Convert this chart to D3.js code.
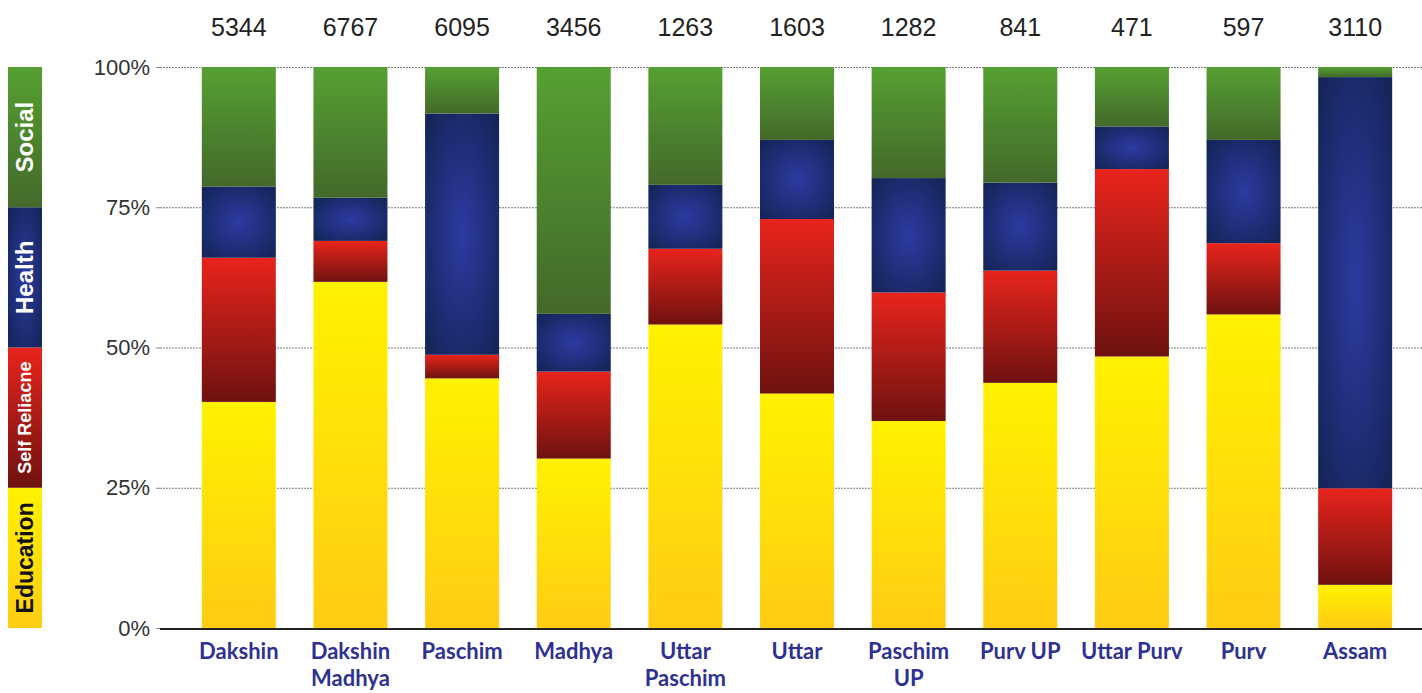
<!DOCTYPE html>
<html>
<head>
<meta charset="utf-8">
<script src="https://cdn.jsdelivr.net/npm/d3@7"></script>
<style>
  body { margin: 0; background: #fff; }
  svg { display: block; }
</style>
</head>
<body>
<svg id="chart"></svg>
<script>
var width = 1422, height = 693

// data (percent of projects per region)
var regions = ["Dakshin", "Dakshin Madhya", "Paschim", "Madhya", "Uttar Paschim", "Uttar",
    "Paschim UP", "Purv UP", "Uttar Purv", "Purv", "Assam"]
var labelLines = [["Dakshin"], ["Dakshin", "Madhya"], ["Paschim"], ["Madhya"], ["Uttar", "Paschim"], ["Uttar"],
    ["Paschim", "UP"], ["Purv UP"], ["Uttar Purv"], ["Purv"], ["Assam"]]
var totals = [5344, 6767, 6095, 3456, 1263, 1603, 1282, 841, 471, 597, 3110]
var keys = ["Education", "Self Reliacne", "Health", "Social"]
var education    = [40.3, 61.7, 44.5, 30.2, 54.1, 41.8, 36.9, 43.7, 48.4, 55.9, 7.7]
var selfReliance = [25.7, 7.3, 4.2, 15.5, 13.5, 31.1, 22.9, 20.0, 33.4, 12.7, 17.2]
var health       = [12.7, 7.7, 43.0, 10.3, 11.4, 14.1, 20.4, 15.7, 7.6, 18.4, 73.3]
var social       = [21.3, 23.3, 8.3, 44.0, 21.0, 13.0, 19.8, 20.6, 10.6, 13.0, 1.8]
var yTicks = [0, 25, 50, 75, 100]

var rows = regions.map(function(r, i) {
    return {
        region: r,
        "Education": education[i],
        "Self Reliacne": selfReliance[i],
        "Health": health[i],
        "Social": social[i]
    }
})

var svg = d3.select("#chart")
    .attr("width", width)
    .attr("height", height)

// gradients roughly like the scanned fills
var defs = svg.append("defs")
var grads = {
    "Education": { type: "linear", stops: [["0%", "#fff200"], ["100%", "#ffcc14"]] },
    "Self Reliacne": { type: "linear", stops: [["0%", "#e8241c"], ["100%", "#6e1210"]] },
    "Health": { type: "radial", stops: [["0%", "#2c3ba0"], ["100%", "#15255a"]] },
    "Social": { type: "linear", stops: [["0%", "#56a032"], ["100%", "#43692a"]] }
}
keys.forEach(function(k, i) {
    var g = grads[k]
    var el
    if (g.type == "linear") {
        el = defs.append("linearGradient").attr("x1", 0).attr("y1", 0).attr("x2", 0).attr("y2", 1)
    } else {
        el = defs.append("radialGradient").attr("cx", "50%").attr("cy", "50%").attr("r", "65%")
    }
    el.attr("id", "grad" + i)
    g.stops.forEach(function(s) {
        el.append("stop").attr("offset", s[0]).attr("stop-color", s[1])
    })
})

var x = d3.scaleBand()
    .domain(regions)
    .range([183, 1411])
    .paddingInner(0.337)
    .paddingOuter(0.1685)

var y = d3.scaleLinear()
    .domain([0, 100])
    .range([628, 67])

// gridlines
svg.append("g")
    .attr("class", "grid")
    .attr("transform", "translate(160,0)")
    .call(d3.axisLeft(y).tickValues(yTicks).tickSize(-(width - 160)).tickFormat(""))
    .call(function(g) { g.select(".domain").remove() })
    .selectAll("line")
        .attr("stroke", "#7a7a7a")
        .attr("stroke-dasharray", "2,1")

// y axis labels
svg.append("g")
    .attr("transform", "translate(160,0)")
    .call(d3.axisLeft(y).tickValues(yTicks).tickSize(4).tickPadding(6).tickFormat(function(d) { return d + "%" }))
    .call(function(g) { g.select(".domain").remove() })
    .call(function(g) { g.selectAll("line").attr("stroke", "#888") })
    .selectAll("text")
        .attr("font-family", "Liberation Sans, Arial, sans-serif")
        .attr("font-size", "22px")
        .attr("fill", "#333")

// stacked bars
var series = d3.stack().keys(keys)(rows)

svg.append("g")
    .selectAll("g")
    .data(series)
    .enter()
    .append("g")
        .attr("fill", function(d, i) { return "url(#grad" + i + ")" })
    .selectAll("rect")
    .data(function(d) { return d })
    .enter()
    .append("rect")
        .attr("x", function(d) { return x(d.data.region) })
        .attr("y", function(d) { return y(d[1]) })
        .attr("width", x.bandwidth())
        .attr("height", function(d) { return y(d[0]) - y(d[1]) })

// baseline
svg.append("line")
    .attr("x1", 160).attr("x2", width)
    .attr("y1", y(0) + 1).attr("y2", y(0) + 1)
    .attr("stroke", "#222")
    .attr("stroke-width", 2)

// totals above the bars
svg.append("g")
    .selectAll("text")
    .data(totals)
    .enter()
    .append("text")
        .attr("x", function(d, i) { return x(regions[i]) + x.bandwidth() / 2 })
        .attr("y", 36)
        .attr("text-anchor", "middle")
        .attr("font-family", "Liberation Sans, Arial, sans-serif")
        .attr("font-size", "25px")
        .attr("fill", "#222")
        .text(function(d) { return d })

// region labels
var lbl = svg.append("g")
    .selectAll("text")
    .data(labelLines)
    .enter()
    .append("text")
        .attr("text-anchor", "middle")
        .attr("font-family", "Lato, sans-serif")
        .attr("font-weight", "bold")
        .attr("font-size", "22px")
        .attr("fill", "#2e3192")
        .attr("transform", function(d, i) { return "translate(" + (x(regions[i]) + x.bandwidth() / 2) + ",659)" })
lbl.selectAll("tspan")
    .data(function(d) { return d })
    .enter()
    .append("tspan")
        .attr("x", 0)
        .attr("dy", function(d, j) { return j == 0 ? 0 : 27 })
        .text(function(d) { return d })

// legend strip on the left, one quarter per category
var legend = svg.append("g")
var lx = 8, lw = 34
var legendFont = ["23px", "18px", "24px", "24px"]
var legendColor = ["#111", "#fff", "#fff", "#fff"]
keys.forEach(function(k, i) {
    var y0 = y(i * 25), y1 = y((i + 1) * 25)
    legend.append("rect")
        .attr("x", lx).attr("y", y1)
        .attr("width", lw).attr("height", y0 - y1)
        .attr("fill", "url(#grad" + i + ")")
    legend.append("text")
        .attr("transform", "translate(" + (lx + lw / 2) + "," + ((y0 + y1) / 2) + ") rotate(-90)")
        .attr("text-anchor", "middle")
        .attr("dy", "0.35em")
        .attr("font-family", "Liberation Sans, Arial, sans-serif")
        .attr("font-weight", "bold")
        .attr("font-size", legendFont[i])
        .attr("fill", legendColor[i])
        .text(k)
})
</script>
</body>
</html>
